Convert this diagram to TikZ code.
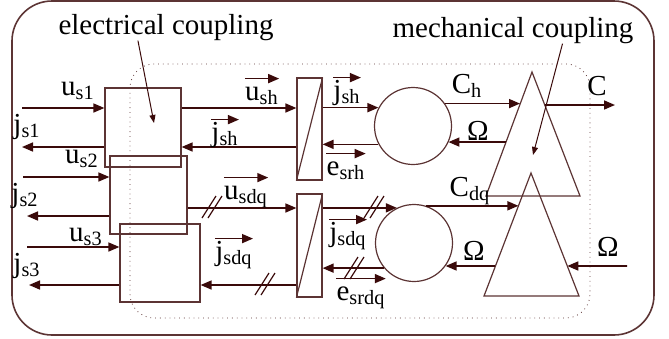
\documentclass[tikz,border=0pt]{standalone}
\usepackage{fontspec}
\setmainfont{Liberation Serif}
\usetikzlibrary{arrows.meta, calc}
\definecolor{wire}{RGB}{58,10,10}
\definecolor{edge}{RGB}{92,52,52}
\tikzset{
    block/.style={
           rectangle,
           draw=edge, line width=0.6pt,
           inner sep=0pt,
           },
    conv/.style={block, minimum width=12.5pt},
    machine/.style={circle, draw=edge, line width=0.6pt, minimum size=38.5pt, inner sep=0pt},
    sig/.style={->, draw=wire, line width=0.8pt},
    note/.style={-{Triangle[length=4pt,width=3pt]}, draw=wire, line width=0.5pt},
    lbl/.style={inner sep=0pt, anchor=base, text height=9pt},
    dslash/.pic={\draw[wire, line width=0.6pt] (-10,11) -- (4,-11) (-4,11) -- (10,-11);},
}

\begin{document}
\begin{tikzpicture}[x=0.5pt, y=-0.5pt, >={Triangle[length=5.5pt,width=4.5pt]}, font=\fontsize{14.5}{17}\selectfont]
  \useasboundingbox (0,0) rectangle (669,338);

% frames
  \draw[edge, line width=0.8pt, rounded corners=20pt] (12,1) rectangle (654,335);
  \draw[edge, dotted, line width=0.4pt, rounded corners=12pt] (130,64) rectangle (590,318);

% electrical coupling blocks
  \node[block, minimum width=38pt, minimum height=39.5pt] (ElecA) at (143,127.5) {};
  \node[block, minimum width=38.5pt, minimum height=39pt] (ElecB) at (148.5,195) {};
  \node[block, minimum width=40pt, minimum height=39pt]   (ElecC) at (160,263) {};

% converters
  \node[conv, minimum height=51pt]   (ConvH)  at (309.5,129) {};
  \node[conv, minimum height=51.5pt] (ConvDQ) at (309.5,245.5) {};
  \draw[edge, line width=0.6pt] (ConvH.south west) -- (ConvH.north east);
  \draw[edge, line width=0.6pt] (ConvDQ.south west) -- (ConvDQ.north east);

% machines
  \node[machine] (MachH)  at (413,126) {};
  \node[machine] (MachDQ) at (414,243) {};

% mechanical coupling
  \coordinate (TopH)    at (532,72);
  \coordinate (LeftH)   at (486,196);
  \coordinate (RightH)  at (580,196);
  \coordinate (TopDQ)   at (531,173);
  \coordinate (LeftDQ)  at (484,296);
  \coordinate (RightDQ) at (579,296);
  \draw[edge, line width=0.6pt] (TopH) -- (LeftH) -- (RightH) -- cycle;
  \draw[edge, line width=0.6pt] (TopDQ) -- (LeftDQ) -- (RightDQ) -- cycle;
  \coordinate (TorqH)  at ($(TopH)!0.26!(LeftH)$);
  \coordinate (SpeedH) at ($(TopH)!0.565!(LeftH)$);
  \coordinate (OutH)   at ($(TopH)!0.266!(RightH)$);
  \coordinate (TorqDQ) at ($(TopDQ)!0.2675!(LeftDQ)$);
  \coordinate (SpeedDQ) at ($(TopDQ)!0.756!(LeftDQ)$);
  \coordinate (InDQ)   at ($(TopDQ)!0.756!(RightDQ)$);

% free ends
  \coordinate (InA)  at (22,108);
  \coordinate (OutA) at (22,147);
  \coordinate (InB)  at (23,177);
  \coordinate (OutB) at (27,216);
  \coordinate (InC)  at (27,247);
  \coordinate (OutC) at (29,285);
  \coordinate (RowDQ) at (250,208);
  \coordinate (CEnd)  at (615,105);
  \coordinate (OmIn)  at (627,266);

% phase side
  \draw[sig] (InA) -- (InA -| ElecA.west);
  \draw[sig] (ElecA.west |- OutA) -- (OutA);
  \draw[sig] (InB) -- (InB -| ElecB.west);
  \draw[sig] (ElecB.west |- OutB) -- (OutB);
  \draw[sig] (InC) -- (InC -| ElecC.west);
  \draw[sig] (ElecC.west |- OutC) -- (OutC);

% homopolar path
  \draw[sig] (ElecA.east |- InA) -- (ConvH.west |- InA);
  \draw[sig] (ConvH.west |- OutA) -- (ElecA.east |- OutA);
  \draw[sig] (ConvH.east |- MachH.152) -- (MachH.152);
  \draw[sig] (MachH.208) -- (MachH.208 -| ConvH.east);
  \draw[sig] (MachH.35) -- (MachH.35 -| TorqH);
  \draw[sig] (SpeedH) -- (SpeedH -| MachH.335);
  \draw[sig] (OutH) -- (CEnd);

% dq path
  \draw[sig] (ElecB.east |- RowDQ) -- (ConvDQ.west |- RowDQ);
  \draw[sig] (ConvDQ.west |- OutC) -- (ElecC.east |- OutC);
  \draw[sig] (ConvDQ.east |- MachDQ.116) -- (MachDQ.116);
  \draw[sig] (MachDQ.220) -- (MachDQ.220 -| ConvDQ.east);
  \draw[sig] (MachDQ.72) -- (MachDQ.72 -| TorqDQ);
  \draw[sig] (SpeedDQ) -- (SpeedDQ -| MachDQ.324);
  \draw[sig] (OmIn) -- (InDQ);

% dq bundles
  \pic at (212,207) {dslash};
  \pic at (265,284) {dslash};
  \pic at (374,207) {dslash};
  \pic at (354,268) {dslash};

% labels
  \node[lbl] (Us1) at (78,95)  {u\textsubscript{s1}};
  \node[lbl] (Js1) at (27,133) {j\textsubscript{s1}};
  \node[lbl] (Us2) at (82,163) {u\textsubscript{s2}};
  \node[lbl] (Js2) at (25,202) {j\textsubscript{s2}};
  \node[lbl] (Us3) at (86,241) {u\textsubscript{s3}};
  \node[lbl] (Js3) at (27,272) {j\textsubscript{s3}};
  \node[lbl] (Ush)   at (262,100) {u\textsubscript{sh}};
  \node[lbl] (JshA)  at (225,141) {j\textsubscript{sh}};
  \node[lbl] (JshB)  at (347,99)  {j\textsubscript{sh}};
  \node[lbl] (Esrh)  at (346,175) {e\textsubscript{srh}};
  \node[lbl] (Usdq)  at (246,199) {u\textsubscript{sdq}};
  \node[lbl] (JsdqA) at (234,260) {j\textsubscript{sdq}};
  \node[lbl] (JsdqB) at (348,241) {j\textsubscript{sdq}};
  \node[lbl] (Esrdq) at (361,300) {e\textsubscript{srdq}};
  \node[lbl] (Ch)    at (467,93)  {C\textsubscript{h}};
  \node[lbl] (Cdq)   at (470,196) {C\textsubscript{dq}};
  \node[lbl] (Ctot)  at (597,95)  {C};
  \node[lbl] (OmH)   at (478,140) {Ω};
  \node[lbl] (OmDQ)  at (474,260) {Ω};
  \node[lbl] (OmExt) at (608,256) {Ω};

% vector marks
  \foreach \v in {Ush, JshA, JshB, Esrh, Usdq, JsdqA, JsdqB, Esrdq}
    \draw[sig] ([yshift=1.5pt]\v.north west) -- ([yshift=1.5pt]\v.north east);

% annotations
  \node[anchor=base, inner sep=0pt] (ElecNote) at (166,34) {electrical coupling};
  \node[anchor=base, inner sep=0pt] (MechNote) at (513,37) {mechanical coupling};
  \coordinate (ElecTip) at (154,123);
  \coordinate (MechTip) at (533,155);
  \draw[note] ($(ElecNote.south west)!0.37!(ElecNote.south east)$) -- (ElecTip);
  \draw[note] ($(MechNote.south west)!0.705!(MechNote.south east)$) -- (MechTip);

\end{tikzpicture}
\end{document}
